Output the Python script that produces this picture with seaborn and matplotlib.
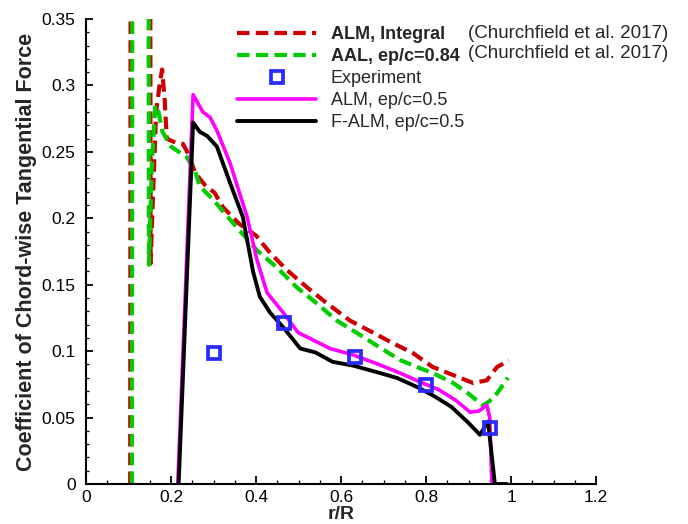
import matplotlib
matplotlib.use("Agg")
import matplotlib.pyplot as plt
import seaborn as sns
import pandas as pd
from matplotlib.ticker import MultipleLocator, FuncFormatter

# ---------------- data ----------------
alm_int_x = [0.104, 0.106, 0.150, 0.152, 0.158, 0.165, 0.173, 0.179, 0.185, 0.190, 0.210, 0.228,
             0.240, 0.257, 0.280, 0.303, 0.322, 0.360, 0.400, 0.433, 0.473, 0.520, 0.567, 0.621,
             0.675, 0.722, 0.769, 0.816, 0.864, 0.911, 0.943, 0.967, 0.995]
alm_int_y = [0.0, 0.8, 0.8, 0.166, 0.220, 0.280, 0.300, 0.312, 0.290, 0.260, 0.257, 0.256,
             0.249, 0.234, 0.225, 0.219, 0.2085, 0.196, 0.187, 0.174, 0.161, 0.148, 0.136, 0.123,
             0.114, 0.106, 0.0986, 0.088, 0.082, 0.076, 0.078, 0.088, 0.093]

aal_x = [0.108, 0.110, 0.146, 0.148, 0.155, 0.163, 0.170, 0.180, 0.200, 0.237, 0.256, 0.268,
         0.300, 0.339, 0.380, 0.402, 0.449, 0.496, 0.543, 0.590, 0.638, 0.695, 0.739, 0.779,
         0.816, 0.864, 0.900, 0.935, 0.960, 0.993]
aal_y = [0.0, 0.8, 0.8, 0.165, 0.240, 0.285, 0.281, 0.265, 0.254, 0.246, 0.236, 0.224,
         0.2137, 0.199, 0.184, 0.176, 0.163, 0.148, 0.136, 0.123, 0.1136, 0.102, 0.0933, 0.088,
         0.0835, 0.076, 0.068, 0.059, 0.065, 0.080]

exp_x = [0.300, 0.466, 0.633, 0.800, 0.950]
exp_y = [0.0986, 0.121, 0.0956, 0.0745, 0.042]

alm_x = [0.216, 0.252, 0.275, 0.292, 0.308, 0.339, 0.379, 0.402, 0.426, 0.464, 0.499, 0.543,
         0.574, 0.630, 0.692, 0.739, 0.786, 0.830, 0.870, 0.904, 0.925, 0.943, 0.950, 0.955]
alm_y = [0.0, 0.293, 0.280, 0.276, 0.266, 0.2416, 0.201, 0.169, 0.144, 0.129, 0.114, 0.107,
         0.102, 0.097, 0.0896, 0.0835, 0.0768, 0.071, 0.063, 0.054, 0.055, 0.0595, 0.050, 0.0]

falm_x = [0.218, 0.252, 0.268, 0.285, 0.308, 0.339, 0.369, 0.393, 0.409, 0.433, 0.464, 0.504,
          0.540, 0.580, 0.630, 0.692, 0.732, 0.779, 0.820, 0.860, 0.900, 0.927, 0.946, 0.962, 0.990]
falm_y = [0.0, 0.272, 0.265, 0.262, 0.254, 0.2266, 0.201, 0.160, 0.141, 0.129, 0.118, 0.102,
          0.099, 0.092, 0.089, 0.0835, 0.0798, 0.073, 0.066, 0.058, 0.046, 0.037, 0.047, 0.0, 0.0]

x_ticks = [0, 0.2, 0.4, 0.6, 0.8, 1.0, 1.2]
y_ticks = [0, 0.05, 0.1, 0.15, 0.2, 0.25, 0.3, 0.35]

labels = ["ALM, Integral", "AAL, ep/c=0.84", "Experiment", "ALM, ep/c=0.5", "F-ALM, ep/c=0.5"]
source_note = "(Churchfield et al. 2017)"

# ---------------- style ----------------
sns.set_style("white")
plt.rcParams["font.family"] = ["Liberation Sans", "DejaVu Sans"]

fig = plt.figure(figsize=(6.88, 5.24), dpi=100)
ax = fig.add_axes([86 / 688, 40 / 524, 510 / 688, 465 / 524])

RED = "#cc0000"
GREEN = "#00cc00"
BLUE = "#2a2aff"
MAG = "#ff00ff"

sns.lineplot(x=alm_int_x, y=alm_int_y, sort=False, estimator=None, ax=ax, color=RED,
             lw=3.0, label=labels[0]).lines[-1].set_dashes((3.0, 1.5))
sns.lineplot(x=aal_x, y=aal_y, sort=False, estimator=None, ax=ax, color=GREEN,
             lw=3.0, label=labels[1]).lines[-1].set_dashes((3.0, 1.5))
sns.lineplot(x=alm_x, y=alm_y, sort=False, estimator=None, ax=ax, color=MAG,
             lw=2.6, label=labels[3])
sns.lineplot(x=falm_x, y=falm_y, sort=False, estimator=None, ax=ax, color="black",
             lw=2.8, label=labels[4])
ax.plot(exp_x, exp_y, ls="none", marker="s", ms=8, mfc="none", mec=BLUE, mew=2.7,
        label=labels[2], zorder=5)

ax.set_xlim(0, 1.2)
ax.set_ylim(0, 0.35)
ax.set_xticks(x_ticks)
ax.set_yticks(y_ticks)
ax.xaxis.set_minor_locator(MultipleLocator(0.05))
ax.yaxis.set_minor_locator(MultipleLocator(0.01))
fmt = FuncFormatter(lambda v, p: ("%g" % round(v, 3)))
ax.xaxis.set_major_formatter(fmt)
ax.yaxis.set_major_formatter(fmt)

for s in ["top", "right"]:
    ax.spines[s].set_visible(False)
for s in ["left", "bottom"]:
    ax.spines[s].set_linewidth(1.5)
    ax.spines[s].set_color("black")

ax.tick_params(axis="both", which="both", direction="in", colors="black", labelsize=12.5)
ax.tick_params(axis="x", which="major", length=6, width=1.3, pad=4)
ax.tick_params(axis="x", which="minor", length=3, width=0.9)
ax.tick_params(axis="y", which="major", length=5, width=1.3, pad=7.5)
ax.tick_params(axis="y", which="minor", length=2.5, width=0.9)
ax.xaxis.set_ticks_position("bottom")
ax.yaxis.set_ticks_position("left")

ax.set_xlabel("r/R", fontsize=14, fontweight="bold", labelpad=1)
ax.set_ylabel("Coefficient of Chord-wise Tangential Force", fontsize=15.5,
              fontweight="bold", labelpad=3)

handles, labs = ax.get_legend_handles_labels()
order = [labs.index(l) for l in labels]
leg = ax.legend([handles[i] for i in order], [labs[i] for i in order],
                loc="upper left", bbox_to_anchor=(237 / 688, 1 - 26 / 524),
                bbox_transform=fig.transFigure, frameon=False, fontsize=13,
                handlelength=4.4, handletextpad=0.8, labelspacing=0.28,
                borderpad=0, borderaxespad=0, numpoints=1)
for t in leg.get_texts()[:2]:
    t.set_fontweight("bold")
for yy in (34, 54):
    fig.text(468 / 688, 1 - yy / 524, source_note, fontsize=13.5, va="center", ha="left")

fig.savefig("out.png", dpi=100)
